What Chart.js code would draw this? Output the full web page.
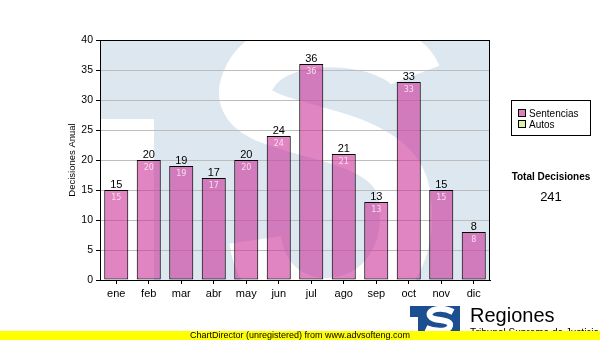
<!DOCTYPE html>
<html>
<head>
<meta charset="utf-8">
<script src="https://cdn.jsdelivr.net/npm/chart.js@4.4.0/dist/chart.umd.min.js"></script>
<style>
  body { margin: 0; background: #fff; }
  #wrap { position: relative; width: 600px; height: 340px; font-family: "Liberation Sans", Arial, sans-serif; overflow: hidden; }
  #chart { position: absolute; left: 0; top: 0; }
  .legend { position: absolute; left: 511px; top: 100px; width: 78px; height: 34px; border: 1px solid #000; font-size: 10px; }
  .legend .item { position: absolute; left: 6px; height: 11px; line-height: 11px; white-space: nowrap; }
  .legend .sw { display: inline-block; width: 6px; height: 6px; border: 1px solid #000; margin-right: 3px; vertical-align: 0px; }
  .total { position: absolute; left: 500px; width: 102px; text-align: center; }
  .regiones { position: absolute; left: 470px; top: 304px; font-size: 20px; line-height: 22px; }
  .sub { position: absolute; left: 470px; top: 327px; font-size: 10px; line-height: 12px; white-space: nowrap; }
  .footer { position: absolute; left: 0; top: 331px; width: 600px; height: 9px; background: #ffff00; font-size: 9px; line-height: 9px; }
  .footer span { position: absolute; left: 190px; top: 0; }
</style>
</head>
<body>
<div id="wrap">
  <canvas id="chart" width="600" height="340"></canvas>
  <div class="legend" id="legend"></div>
  <div class="total" style="top:171px;font-weight:bold;font-size:10px;">Total Decisiones</div>
  <div class="total" style="top:189px;font-size:13px;" id="total"></div>
  <div class="regiones">Regiones</div>
  <div class="sub">Tribunal Supremo de Justicia</div>
  <div class="footer"><span>ChartDirector (unregistered) from www.advsofteng.com</span></div>
</div>
<script>
const months = ['ene', 'feb', 'mar', 'abr', 'may', 'jun', 'jul', 'ago', 'sep', 'oct', 'nov', 'dic'];
const sentencias = [15, 20, 19, 17, 20, 24, 36, 21, 13, 33, 15, 8];
const seriesNames = ['Sentencias', 'Autos'];
const seriesColors = ['#e07dbd', '#ddf0a8'];
const yTicks = [0, 5, 10, 15, 20, 25, 30, 35, 40];

// legend + total
const legend = document.getElementById('legend');
seriesNames.forEach((name, i) => {
  const item = document.createElement('div');
  item.className = 'item';
  item.style.top = (7 + i * 11) + 'px';
  item.innerHTML = '<span class="sw" style="background:' + seriesColors[i] + '"></span>' + name;
  legend.appendChild(item);
});
document.getElementById('total').textContent = sentencias.reduce((a, b) => a + b, 0);

// faint "TS" logo behind the plot
const watermark = {
  id: 'watermark',
  beforeDraw(chart) {
    const { ctx, chartArea: ca } = chart;
    const x = (v) => ca.left + v;
    const y = (v) => ca.top + v;
    ctx.save();
    ctx.beginPath();
    ctx.rect(ca.left, ca.top, ca.right - ca.left, ca.bottom - ca.top);
    ctx.clip();
    ctx.fillStyle = '#dde7f0';
    ctx.fillRect(ca.left, ca.top, ca.right - ca.left, ca.bottom - ca.top);
    ctx.fillStyle = '#fff';
    ctx.fillRect(x(0), y(79), 54, ca.bottom - y(79));
    ctx.strokeStyle = '#fff';
    ctx.lineWidth = 52;
    ctx.beginPath();
    ctx.moveTo(x(315), y(35));
    ctx.bezierCurveTo(x(300), y(-5), x(160), y(-20), x(145), y(50));
    ctx.bezierCurveTo(x(140), y(100), x(300), y(80), x(305), y(160));
    ctx.bezierCurveTo(x(320), y(280), x(170), y(300), x(155), y(200));
    ctx.stroke();
    ctx.restore();
  }
};

const barLabels = {
  id: 'barLabels',
  afterDatasetsDraw(chart) {
    const { ctx, chartArea: ca } = chart;
    ctx.save();
    ctx.strokeStyle = '#000';
    ctx.lineWidth = 1;
    ctx.strokeRect(ca.left + 0.5, ca.top + 0.5, ca.right - ca.left - 1, ca.bottom - ca.top);
    ctx.textAlign = 'center';
    ctx.textBaseline = 'alphabetic';
    chart.getDatasetMeta(0).data.forEach((bar, i) => {
      ctx.fillStyle = '#000';
      ctx.font = '11px "Liberation Sans", Arial';
      ctx.fillText(sentencias[i], bar.x, bar.y - 2);
      ctx.fillStyle = '#f8dcef';
      ctx.font = '8px "DejaVu Sans"';
      ctx.fillText(sentencias[i], bar.x, bar.y + 9.5);
    });
    ctx.restore();
  },
  afterDraw(chart) {
    const ctx = chart.ctx;
    ctx.save();
    ctx.fillStyle = '#1c4f92';
    ctx.fillRect(410, 306, 50, 26);
    ctx.fillStyle = '#fff';
    ctx.fillRect(410, 317, 8, 15);
    ctx.strokeStyle = '#fff';
    ctx.lineWidth = 6;
    ctx.beginPath();
    ctx.moveTo(453, 312);
    ctx.bezierCurveTo(442, 306, 427, 309, 430, 316);
    ctx.bezierCurveTo(433, 322, 452, 318, 450, 326);
    ctx.bezierCurveTo(448, 333, 432, 331, 426, 328);
    ctx.stroke();
    ctx.restore();
  }
};

new Chart(document.getElementById('chart'), {
  type: 'bar',
  data: {
    labels: months,
    datasets: [{
      label: seriesNames[0],
      data: sentencias,
      backgroundColor: 'rgba(204, 51, 153, 0.6)',
      borderColor: '#000',
      borderWidth: 1,
      borderSkipped: false,
      barPercentage: 0.74,
      categoryPercentage: 1,
    }],
  },
  options: {
    responsive: false,
    animation: false,
    layout: { padding: { left: 60, top: 40, right: 110, bottom: 40 } },
    plugins: { legend: { display: false }, tooltip: { enabled: false } },
    scales: {
      x: {
        afterFit: (s) => { s.height = 20; },
        grid: { drawOnChartArea: false, drawTicks: true, tickLength: 4, tickColor: '#000', offset: false },
        border: { color: '#000', width: 1 },
        ticks: { color: '#000', padding: 3, font: { family: '"Liberation Sans", Arial', size: 11 } },
      },
      y: {
        min: 0,
        max: 40,
        afterFit: (s) => { s.width = 40; },
        afterBuildTicks: (s) => { s.ticks = yTicks.map((v) => ({ value: v })); },
        grid: { color: '#bdbdbd', tickLength: 4, tickColor: '#000' },
        border: { color: '#000', width: 1 },
        ticks: { color: '#000', padding: 3, font: { family: '"Liberation Sans", Arial', size: 10.5 } },
        title: { display: true, text: 'Decisiones Anual', color: '#000', padding: { top: 7, bottom: 0 }, font: { family: '"Liberation Sans", Arial', size: 9.5 } },
      },
    },
  },
  plugins: [watermark, barLabels],
});
</script>
</body>
</html>
